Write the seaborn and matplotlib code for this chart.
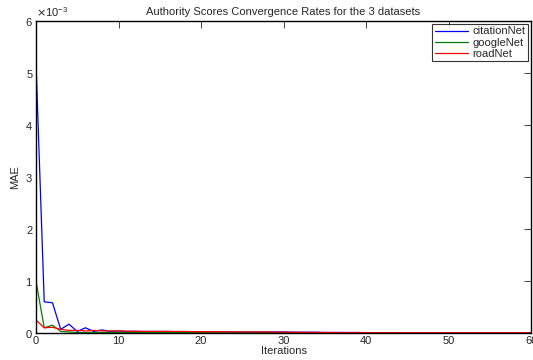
import numpy as np
import pandas as pd
import matplotlib
matplotlib.use('Agg')
import matplotlib.pyplot as plt
import seaborn as sns

# MAE values, in units of 1e-3
iterations = list(range(61))
citation_mae = [5.2, 0.6, 0.58, 0.07, 0.17, 0.03, 0.10, 0.03, 0.06, 0.03,
                0.04, 0.03, 0.03, 0.03, 0.03, 0.03, 0.03, 0.025, 0.025, 0.025,
                0.025, 0.02, 0.02, 0.02, 0.02, 0.02, 0.02, 0.02, 0.02, 0.02,
                0.02, 0.015, 0.015, 0.015, 0.015, 0.01, 0.01, 0.01, 0.01, 0.01,
                0.005, 0.005, 0.005, 0.005, 0.005, 0.005, 0.005, 0.005, 0.005, 0.005,
                0.005, 0.005, 0.005, 0.005, 0.005, 0.005, 0.005, 0.005, 0.005, 0.005,
                0.005]
google_mae = [1.0, 0.1, 0.15, 0.03, 0.02, 0.01, 0.01, 0.01, 0.01, 0.01,
              0.01, 0.01, 0.01, 0.01, 0.01, 0.01, 0.01, 0.01, 0.01, 0.01,
              0.01, 0.01, 0.01, 0.01, 0.01, 0.01, 0.01, 0.01, 0.01, 0.01,
              0.01, 0.008, 0.008, 0.008, 0.008, 0.006, 0.006, 0.006, 0.005, 0.005,
              0.004, 0.004, 0.004, 0.004, 0.004, 0.003, 0.003, 0.003, 0.003, 0.003,
              0.003, 0.003, 0.003, 0.003, 0.003, 0.003, 0.003, 0.003, 0.003, 0.003,
              0.003]
road_mae = [0.25, 0.1, 0.11, 0.07, 0.05, 0.05, 0.04, 0.05, 0.04, 0.04,
            0.04, 0.035, 0.035, 0.03, 0.03, 0.03, 0.03, 0.03, 0.03, 0.025,
            0.025, 0.025, 0.025, 0.02, 0.02, 0.02, 0.02, 0.02, 0.02, 0.015,
            0.015, 0.015, 0.012, 0.012, 0.01, 0.01, 0.01, 0.008, 0.008, 0.008,
            0.006, 0.006, 0.006, 0.005, 0.005, 0.005, 0.005, 0.005, 0.005, 0.005,
            0.005, 0.005, 0.005, 0.005, 0.005, 0.005, 0.005, 0.005, 0.005, 0.005,
            0.005]
datasets = ['citationNet', 'googleNet', 'roadNet']
colors = ['#0000ff', '#008000', '#ff0000']

df = pd.DataFrame({
    'Iterations': iterations * 3,
    'MAE': np.array(citation_mae + google_mae + road_mae) * 1e-3,
    'dataset': [d for d in datasets for _ in iterations],
})

sns.set_style('white')
plt.rcParams['font.family'] = ['Liberation Sans', 'DejaVu Sans']

fig = plt.figure(figsize=(5.33, 3.6), dpi=100)
ax = fig.add_axes([0.0675, 0.075, 0.929, 0.867])
sns.lineplot(data=df, x='Iterations', y='MAE', hue='dataset', palette=colors,
             linewidth=0.9, ax=ax)

ax.set_xlim(0, 60)
ax.set_ylim(0, 0.006)
ax.set_xticks([0, 10, 20, 30, 40, 50, 60])
ax.set_yticks([0, 0.001, 0.002, 0.003, 0.004, 0.005, 0.006])
ax.ticklabel_format(axis='y', style='sci', scilimits=(0, 0), useMathText=True)
ax.yaxis.get_offset_text().set_fontsize(8)
ax.tick_params(direction='in', top=True, right=True, labelsize=8, length=5, width=0.6, pad=2)
for s in ax.spines.values():
    s.set_color('black')
    s.set_linewidth(1.0)

ax.set_title('Authority Scores Convergence Rates for the 3 datasets', fontsize=8, pad=4)
ax.set_xlabel('Iterations', fontsize=8, labelpad=0.5)
ax.set_ylabel('MAE', fontsize=8, labelpad=4)

leg = ax.legend(loc='upper right', fontsize=8, frameon=True, fancybox=False,
                borderaxespad=0.25, handlelength=3.0, handletextpad=0.4,
                borderpad=0.25, labelspacing=0.1)
leg.get_frame().set_edgecolor('black')
leg.get_frame().set_linewidth(0.8)
leg.set_title(None)

fig.savefig('out.png', dpi=100)
